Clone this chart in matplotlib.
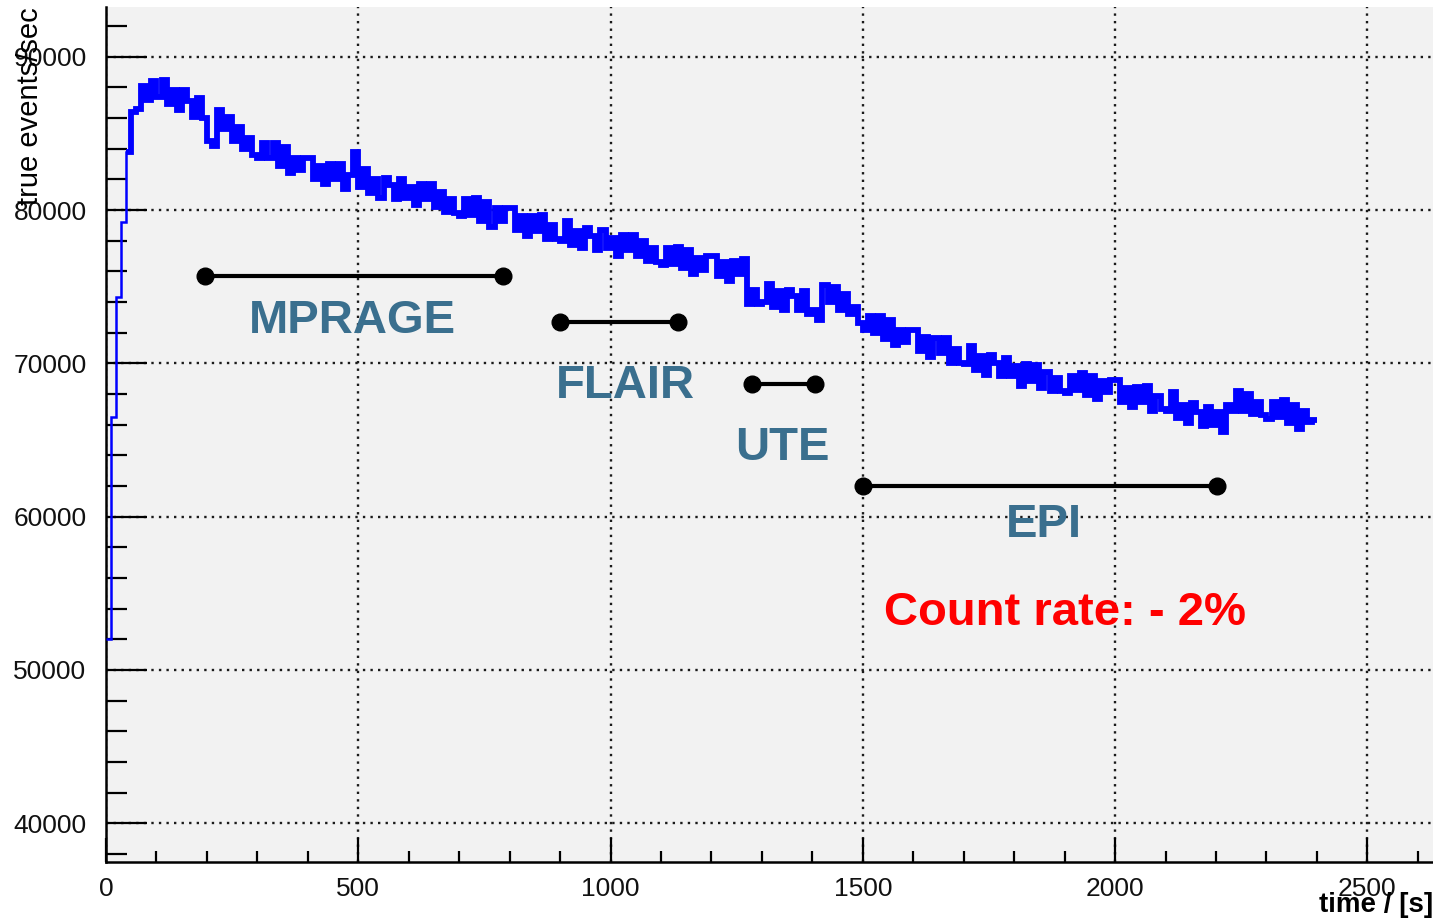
import numpy as np
import matplotlib
matplotlib.use("Agg")
import matplotlib.pyplot as plt
from matplotlib.ticker import MultipleLocator

# ---- data: true event rate per 10 s bin (thousands of events/sec) ----
bin_width = 10
rate_k = [
    52.0, 66.5, 74.3, 79.2, 83.8, 86.4, 86.6, 88.1, 87.2, 88.4,
    87.4, 88.5, 86.9, 87.8, 86.5, 87.8, 87.1, 86.1, 87.3, 86.0,
    84.5, 84.2, 86.5, 85.3, 86.1, 84.5, 85.4, 84.0, 84.7, 83.6,
    83.4, 84.4, 83.4, 84.4, 82.9, 84.1, 82.4, 83.4, 82.6, 83.4,
    83.4, 82.0, 82.9, 81.7, 83.0, 82.0, 83.0, 81.4, 82.3, 83.8,
    81.5, 82.7, 81.1, 82.0, 80.8, 82.1, 81.6, 80.7, 82.0, 80.8,
    81.5, 80.3, 81.7, 80.7, 81.7, 80.2, 81.2, 79.9, 80.7, 79.8,
    79.6, 80.7, 79.7, 80.8, 79.3, 80.5, 78.9, 80.1, 79.3, 80.1,
    80.1, 78.7, 79.6, 78.3, 79.6, 78.6, 79.7, 78.1, 79.0, 78.1,
    78.0, 79.3, 77.7, 78.6, 77.5, 78.8, 78.3, 77.4, 78.7, 77.5,
    78.2, 77.0, 78.4, 77.4, 78.4, 77.0, 78.0, 76.7, 77.5, 76.6,
    76.4, 77.5, 76.5, 77.6, 76.2, 77.4, 75.8, 76.9, 76.1, 77.0,
    77.0, 75.7, 76.6, 75.4, 76.7, 75.8, 76.8, 73.9, 74.8, 73.9,
    74.0, 75.2, 73.7, 74.7, 73.5, 74.8, 74.4, 73.5, 74.7, 73.2,
    73.5, 72.8, 75.1, 74.0, 75.0, 73.5, 74.5, 73.2, 73.7, 72.6,
    72.2, 73.1, 72.0, 73.1, 71.6, 72.8, 71.2, 72.2, 71.4, 72.2,
    72.2, 70.8, 71.7, 70.4, 71.65, 70.65, 71.65, 70.05, 70.95, 70.05,
    69.95, 71.15, 69.55, 70.45, 69.25, 70.55, 70.05, 69.15, 70.35, 69.15,
    69.85, 68.55, 69.95, 68.85, 69.9, 68.4, 69.45, 68.2, 69.05, 68.2,
    68.05, 69.2, 68.25, 69.4, 67.95, 69.2, 67.7, 68.85, 68.1, 68.9,
    68.9, 67.5, 68.4, 67.15, 68.45, 67.45, 68.5, 66.9, 67.85, 67.0,
    66.9, 68.1, 66.45, 67.3, 66.1, 67.4, 66.8, 65.9, 67.15, 66.0,
    66.8, 65.5, 67.3, 66.9, 68.2, 66.9, 68.0, 66.7, 67.5, 66.6,
    66.4, 67.5, 66.5, 67.6, 66.1, 67.3, 65.75, 66.9, 66.15, 66.3,
]

# MR sequences (start, end in s; level in events/sec)
seq_names = ["MPRAGE", "FLAIR", "UTE", "EPI"]
seq_start = [196, 900, 1280, 1501]
seq_end = [786, 1134, 1405, 2201]
seq_level = [75700, 72700, 68650, 61970]

note_text = "Count rate: - 2%"
x_tick_values = [0, 500, 1000, 1500, 2000, 2500]
y_tick_values = [40000, 50000, 60000, 70000, 80000, 90000]

# ---- layout ----
seq_label_x = [489, 1029, 1341, 1858]
seq_label_y = [71980, 67740, 63700, 58690]
note_x, note_y = 1901, 52930

plt.rcParams["font.family"] = ["Liberation Sans", "DejaVu Sans"]

fig = plt.figure(figsize=(14.33, 9.21), dpi=100)
fig.patch.set_facecolor("white")
ax = fig.add_axes([106 / 1433, 59 / 921, 1327 / 1433, 855 / 921])
ax.set_facecolor("#f2f2f2")

values = np.array(rate_k) * 1000.0
edges = bin_width * np.arange(len(values) + 1)
# thin rising edge, thick noisy band afterwards
ax.stairs(values[:5], edges[:6], baseline=None, color="#0000ff",
          linewidth=1.8, zorder=3)
ax.stairs(values[4:], edges[4:], baseline=None, color="#0000ff",
          linewidth=4.2, zorder=3)

seq_color = "#3a6f8e"
for name, s, e, lv, lx, ly in zip(seq_names, seq_start, seq_end, seq_level,
                                  seq_label_x, seq_label_y):
    ax.plot([s, e], [lv, lv], color="black", linewidth=3.0, marker="o",
            markersize=12, zorder=4)
    ax.text(lx, ly, name, color=seq_color, fontsize=34, fontweight="bold",
            ha="center", va="baseline", zorder=5)

ax.text(note_x, note_y, note_text, color="#ff0000", fontsize=34,
        fontweight="bold", ha="center", va="baseline", zorder=5)

ax.set_xlim(0, 2630)
ax.set_ylim(37476, 93242)

ax.set_xticks(x_tick_values)
ax.set_yticks(y_tick_values)
ax.xaxis.set_minor_locator(MultipleLocator(100))
ax.yaxis.set_minor_locator(MultipleLocator(2000))

ax.tick_params(axis="both", which="both", direction="in", colors="black",
               labelcolor="#111111", labelsize=19)
ax.tick_params(axis="y", which="major", length=29.5, width=1.6, pad=14)
ax.tick_params(axis="y", which="minor", length=15, width=1.6)
ax.tick_params(axis="x", which="major", length=17, width=1.6, pad=11)
ax.tick_params(axis="x", which="minor", length=8, width=1.6)

ax.grid(True, which="major", color="#1a1a1a", linestyle=(0, (1, 2.2)),
        linewidth=1.7, zorder=1)
ax.set_axisbelow(True)

for side in ["top", "right"]:
    ax.spines[side].set_visible(False)
for side in ["left", "bottom"]:
    ax.spines[side].set_linewidth(1.8)
    ax.spines[side].set_color("black")

ax.set_ylabel("true events/sec", fontsize=21, loc="top")
ax.yaxis.set_label_coords(-0.047, 1.0)
ax.set_xlabel("time / [s]", fontsize=20, fontweight="bold", loc="right",
              va="center")
ax.xaxis.set_label_coords(1.0, -0.0503)

fig.savefig("out.png", dpi=100, facecolor="white")
